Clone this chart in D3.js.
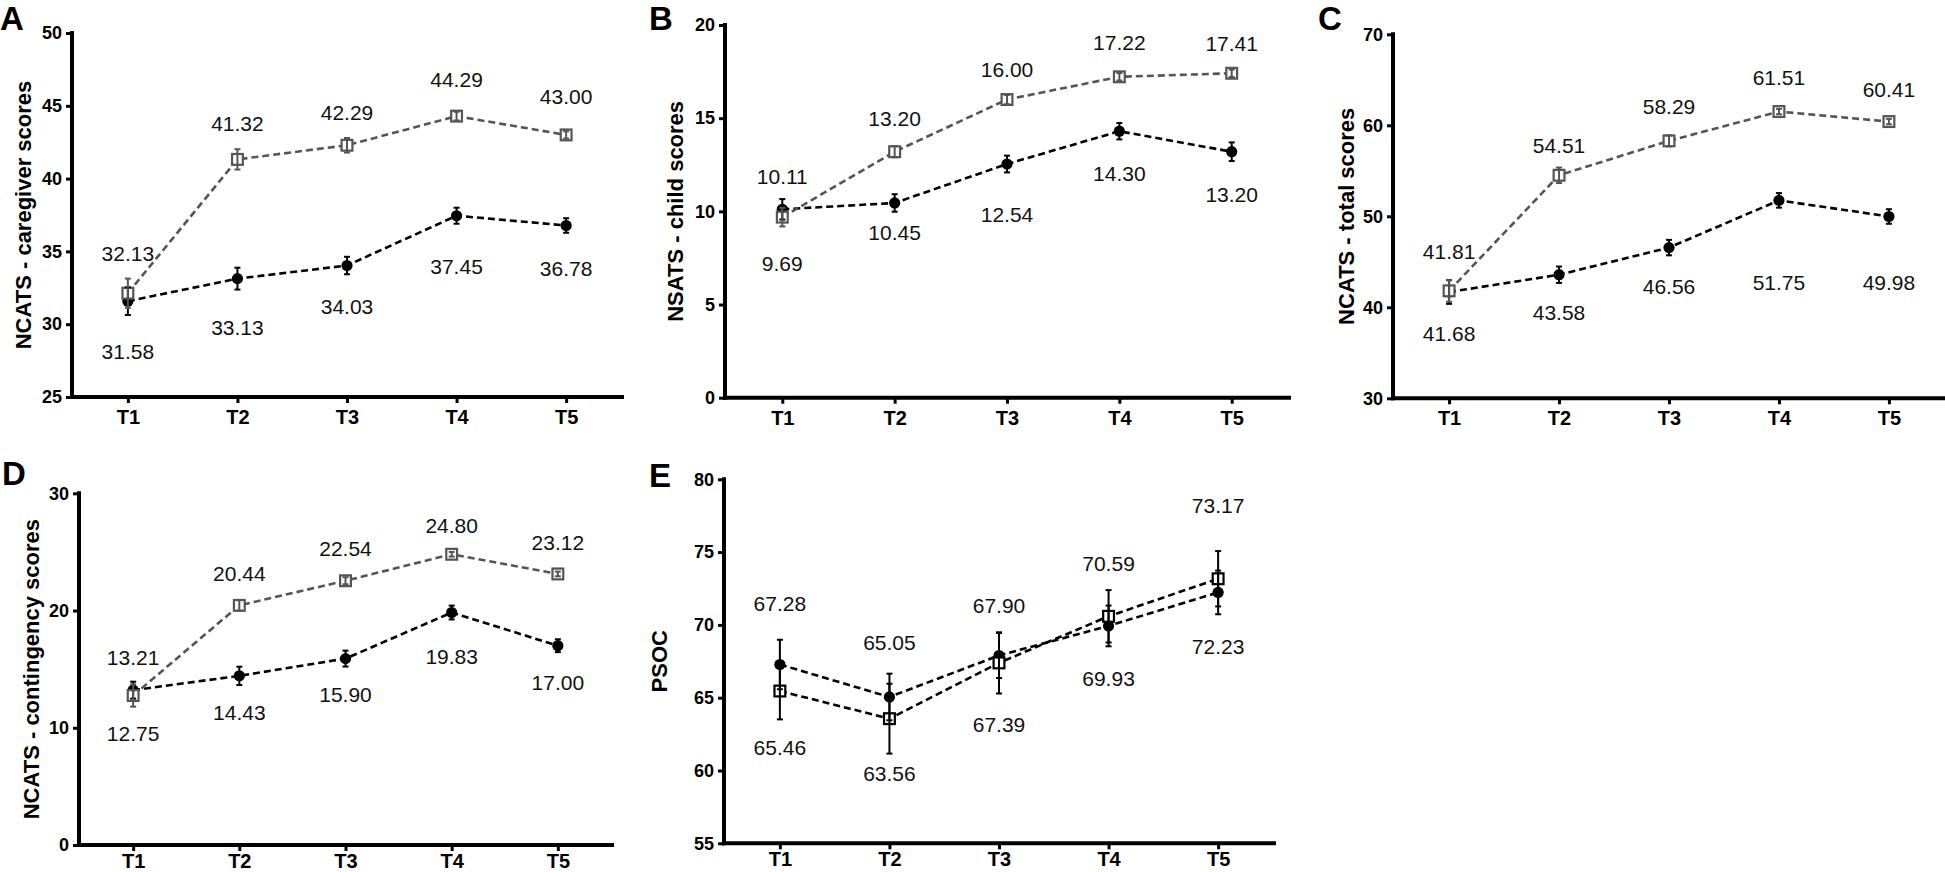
<!DOCTYPE html>
<html>
<head>
<meta charset="utf-8">
<script src="https://cdn.jsdelivr.net/npm/d3@7"></script>
<style>
  html, body { margin: 0; padding: 0; background: #fff; }
  svg { display: block; }
  text { font-family: "Liberation Sans", Arial, Helvetica, sans-serif; }
</style>
</head>
<body>
<svg id="chart" width="1945" height="872"></svg>
<script>
// ---------------- DATA ----------------
const categories = ["T1", "T2", "T3", "T4", "T5"];

// Panel A: NCATS - caregiver scores
const aOpen = [32.13, 41.32, 42.29, 44.29, 43.00];
const aOpenSE = [1.0, 0.7, 0.5, 0.3, 0.25];
const aFilled = [31.58, 33.13, 34.03, 37.45, 36.78];
const aFilledSE = [0.95, 0.75, 0.6, 0.55, 0.5];
const aTicks = [25, 30, 35, 40, 45, 50];

// Panel B: NSATS - child scores
const bOpen = [9.69, 13.20, 16.00, 17.22, 17.41];
const bOpenSE = [0.5, 0.3, 0.25, 0.2, 0.2];
const bFilled = [10.11, 10.45, 12.54, 14.30, 13.20];
const bFilledSE = [0.55, 0.47, 0.45, 0.44, 0.5];
const bTicks = [0, 5, 10, 15, 20];

// Panel C: NCATS - total scores
const cOpen = [41.81, 54.51, 58.29, 61.51, 60.41];
const cOpenSE = [1.2, 0.85, 0.6, 0.3, 0.3];
const cFilled = [41.68, 43.58, 46.56, 51.75, 49.98];
const cFilledSE = [1.3, 0.9, 0.85, 0.8, 0.8];
const cTicks = [30, 40, 50, 60, 70];

// Panel D: NCATS - contingency scores
const dOpen = [12.75, 20.44, 22.54, 24.80, 23.12];
const dOpenSE = [0.95, 0.45, 0.3, 0.2, 0.2];
const dFilled = [13.21, 14.43, 15.90, 19.83, 17.00];
const dFilledSE = [0.72, 0.78, 0.68, 0.59, 0.55];
const dTicks = [0, 10, 20, 30];

// Panel E: PSOC
const eOpen = [65.46, 63.56, 67.39, 70.59, 73.17];
const eOpenSE = [1.95, 2.4, 2.1, 1.8, 1.9];
const eFilled = [67.28, 65.05, 67.90, 69.93, 72.23];
const eFilledSE = [1.7, 1.6, 1.55, 1.4, 1.5];
const eTicks = [55, 60, 65, 70, 75, 80];

// ---------------- LAYOUT ----------------
// up/down: pixel distance of the value label (higher value above, lower below) from its marker
const panels = [
  { letter: "A", title: "NCATS - caregiver scores", open: aOpen, openSE: aOpenSE, filled: aFilled, filledSE: aFilledSE, ticks: aTicks,
    x0: 72, x1: 622, yT: 33, yB: 397, titleX: 31, lx: 0, ly: 30, openColor: "#555", labelPad: 7,
    up: [40, 36, 33, 37, 38], down: [50, 49, 41, 51, 43] },
  { letter: "B", title: "NSATS - child scores", open: bOpen, openSE: bOpenSE, filled: bFilled, filledSE: bFilledSE, ticks: bTicks,
    x0: 725, x1: 1289, yT: 25, yB: 397.7, titleX: 683, lx: 649, ly: 30, openColor: "#555", labelPad: 7,
    up: [33, 33, 30, 34, 30], down: [46, 30, 50, 42, 43] },
  { letter: "C", title: "NCATS - total scores", open: cOpen, openSE: cOpenSE, filled: cFilled, filledSE: cFilledSE, ticks: cTicks,
    x0: 1393, x1: 1945, yT: 34.3, yB: 398.3, titleX: 1354, lx: 1318, ly: 30, openColor: "#555", labelPad: 7,
    up: [39, 30, 34, 34, 32], down: [41, 38, 39, 82, 66] },
  { letter: "D", title: "NCATS - contingency scores", open: dOpen, openSE: dOpenSE, filled: dFilled, filledSE: dFilledSE, ticks: dTicks,
    x0: 79, x1: 612, yT: 493.3, yB: 845, titleX: 38.6, lx: 2, ly: 485, openColor: "#555", labelPad: 3,
    up: [33, 32, 32, 29, 31], down: [38, 37, 36, 44, 37] },
  { letter: "E", title: "PSOC", open: eOpen, openSE: eOpenSE, filled: eFilled, filledSE: eFilledSE, ticks: eTicks,
    x0: 724, x1: 1274, yT: 479.3, yB: 843.3, titleX: 667, lx: 649, ly: 487, openColor: "#000", labelPad: 3,
    up: [61, 54, 50, 53, 73], down: [56, 55, 62, 53, 54] }
];

const svg = d3.select("#chart");

panels.forEach(p => {
  const g = svg.append("g");
  const x = d3.scalePoint().domain(categories).range([p.x0, p.x1]).padding(0.51);
  const y = d3.scaleLinear().domain([d3.min(p.ticks), d3.max(p.ticks)]).range([p.yB, p.yT]);

  // axes ticks + labels
  const yAxis = g.append("g").attr("transform", `translate(${p.x0},0)`)
    .call(d3.axisLeft(y).tickValues(p.ticks).tickSize(6).tickSizeOuter(0).tickPadding(4).tickFormat(d3.format("d")));
  yAxis.select(".domain").remove();
  yAxis.selectAll(".tick line").attr("stroke", "#000").attr("stroke-width", 3);
  yAxis.selectAll(".tick text").attr("font-size", 18).attr("font-weight", "bold").attr("fill", "#000")
    .attr("font-family", "Liberation Sans, Arial, sans-serif");

  const xAxis = g.append("g").attr("transform", `translate(0,${p.yB})`)
    .call(d3.axisBottom(x).tickSize(6).tickSizeOuter(0).tickPadding(p.labelPad));
  xAxis.select(".domain").remove();
  xAxis.selectAll(".tick line").attr("stroke", "#000").attr("stroke-width", 3);
  xAxis.selectAll(".tick text").attr("font-size", 20).attr("font-weight", "bold").attr("fill", "#000")
    .attr("font-family", "Liberation Sans, Arial, sans-serif");

  // axis lines
  g.append("line").attr("x1", p.x0).attr("x2", p.x0).attr("y1", p.yB).attr("y2", p.yT)
    .attr("stroke", "#000").attr("stroke-width", 4).attr("stroke-linecap", "square");
  g.append("line").attr("x1", p.x0).attr("x2", p.x1).attr("y1", p.yB).attr("y2", p.yB)
    .attr("stroke", "#000").attr("stroke-width", 4).attr("stroke-linecap", "square");

  // y title
  g.append("text")
    .attr("transform", `translate(${p.titleX},${(p.yT + p.yB) / 2}) rotate(-90)`)
    .attr("text-anchor", "middle")
    .attr("font-size", 22).attr("font-weight", "bold").attr("fill", "#000")
    .text(p.title);

  // panel letter
  g.append("text").attr("x", p.lx).attr("y", p.ly)
    .attr("font-size", 33).attr("font-weight", "bold").attr("fill", "#000")
    .text(p.letter);

  const series = [
    { vals: p.filled, se: p.filledSE, color: "#000", type: "circle" },
    { vals: p.open, se: p.openSE, color: p.openColor, type: "square" }
  ];

  const line = d3.line().x((d, i) => x(categories[i])).y(d => y(d));

  // lines
  series.forEach(s => {
    g.append("path").datum(s.vals).attr("d", line)
      .attr("fill", "none").attr("stroke", s.color).attr("stroke-width", 2.6)
      .attr("stroke-dasharray", "7,4");
  });

  // markers
  series.forEach(s => {
    if (s.type === "circle") {
      g.selectAll(null).data(s.vals).enter().append("circle")
        .attr("cx", (d, i) => x(categories[i])).attr("cy", d => y(d)).attr("r", 5.6)
        .attr("fill", s.color);
    } else {
      g.selectAll(null).data(s.vals).enter().append("rect")
        .attr("x", (d, i) => x(categories[i]) - 5.4).attr("y", d => y(d) - 5.4)
        .attr("width", 10.8).attr("height", 10.8)
        .attr("fill", "#fff").attr("stroke", s.color).attr("stroke-width", 2.2);
    }
  });

  // error bars
  series.forEach(s => {
    const eb = g.selectAll(null).data(s.vals).enter().append("g")
      .attr("stroke", s.color).attr("stroke-width", 2);
    eb.append("line")
      .attr("x1", (d, i) => x(categories[i])).attr("x2", (d, i) => x(categories[i]))
      .attr("y1", (d, i) => y(d - s.se[i])).attr("y2", (d, i) => y(d + s.se[i]));
    eb.append("line")
      .attr("x1", (d, i) => x(categories[i]) - 3).attr("x2", (d, i) => x(categories[i]) + 3)
      .attr("y1", (d, i) => y(d + s.se[i])).attr("y2", (d, i) => y(d + s.se[i]));
    eb.append("line")
      .attr("x1", (d, i) => x(categories[i]) - 3).attr("x2", (d, i) => x(categories[i]) + 3)
      .attr("y1", (d, i) => y(d - s.se[i])).attr("y2", (d, i) => y(d - s.se[i]));
  });

  // value labels: higher value above, lower value below
  categories.forEach((c, i) => {
    const hi = Math.max(p.open[i], p.filled[i]);
    const lo = Math.min(p.open[i], p.filled[i]);
    g.append("text").attr("x", x(c)).attr("y", y(hi) - p.up[i])
      .attr("text-anchor", "middle").attr("dominant-baseline", "central")
      .attr("font-size", 21).attr("fill", "#111").text(hi.toFixed(2));
    g.append("text").attr("x", x(c)).attr("y", y(lo) + p.down[i])
      .attr("text-anchor", "middle").attr("dominant-baseline", "central")
      .attr("font-size", 21).attr("fill", "#111").text(lo.toFixed(2));
  });
});
</script>
</body>
</html>
